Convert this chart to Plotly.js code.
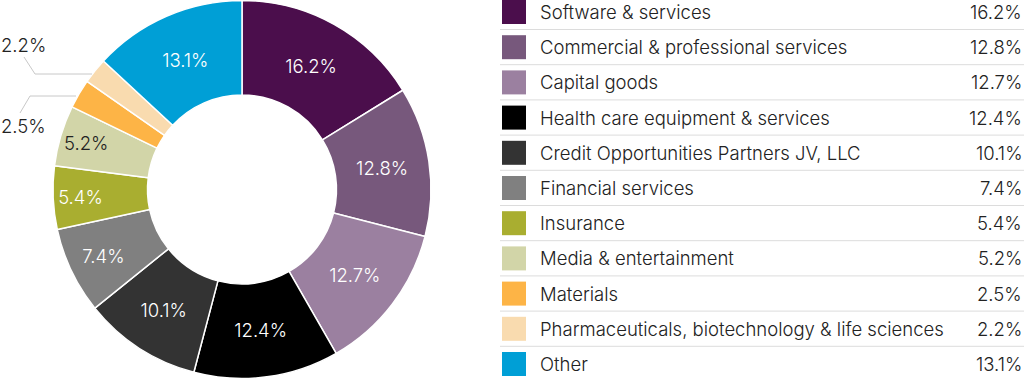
<!DOCTYPE html>
<html>
<head>
<meta charset="utf-8">
<script src="https://cdn.plot.ly/plotly-3.0.1.min.js"></script>
<style>html,body{margin:0;padding:0;background:#fff;}#chart{width:1024px;height:379px;}</style>
</head>
<body>
<div id="chart"></div>
<script>
const categories = [
  "Software & services",
  "Commercial & professional services",
  "Capital goods",
  "Health care equipment & services",
  "Credit Opportunities Partners JV, LLC",
  "Financial services",
  "Insurance",
  "Media & entertainment",
  "Materials",
  "Pharmaceuticals, biotechnology & life sciences",
  "Other"
];
const values = [16.2, 12.8, 12.7, 12.4, 10.1, 7.4, 5.4, 5.2, 2.5, 2.2, 13.1];
const colors = ["#4b0e4c", "#77587c", "#9b80a0", "#000000", "#333333", "#808080",
                "#a9ae30", "#d2d5a8", "#fdb446", "#f9dbaf", "#009fd6"];
const insideTextColors = ["#fff","#fff","#fff","#fff","#fff","#fff","#fff","#222","#fff","#fff","#fff"];
const outsideLabelIdx = [9, 8]; // small slices labelled outside

const W = 1024, H = 379;
const px = x => x / W;
const py = y => 1 - y / H;
const FONT = "Inter, sans-serif";

const fmt = v => v.toFixed(1) + "%";
const sliceText = values.map((v, i) => outsideLabelIdx.includes(i) ? "" : fmt(v));

const trace = {
  type: "pie",
  labels: categories,
  values: values,
  text: sliceText,
  textinfo: "text",
  textposition: "inside",
  insidetextorientation: "horizontal",
  insidetextfont: {family: FONT, size: 18.5, color: insideTextColors, weight: 300},
  hole: 0.5,
  sort: false,
  direction: "clockwise",
  rotation: 0,
  marker: {colors: colors, line: {color: "#ffffff", width: 1.5}},
  domain: {x: [px(53), px(431)], y: [0, 1]},
  showlegend: false,
  hoverinfo: "label+percent"
};

const shapes = [];
const annotations = [];
const rowY0 = 12, rowStep = 35.2;
categories.forEach((c, i) => {
  const yc = rowY0 + rowStep * i;
  shapes.push({type: "rect", xref: "paper", yref: "paper",
    x0: px(502), x1: px(526), y0: py(yc - 12), y1: py(yc + 12),
    fillcolor: colors[i], line: {width: 0}});
  if (i < categories.length - 1) {
    shapes.push({type: "line", xref: "paper", yref: "paper",
      x0: px(500), x1: px(1024), y0: py(yc + 17.5), y1: py(yc + 17.5),
      line: {color: "#dcdcdc", width: 1}});
  }
  annotations.push({xref: "paper", yref: "paper", x: px(538), y: py(yc),
    xanchor: "left", yanchor: "middle", showarrow: false, text: c,
    font: {family: FONT, size: 18.5, color: "#222", weight: 300}});
  annotations.push({xref: "paper", yref: "paper", x: px(1024), y: py(yc),
    xanchor: "right", yanchor: "middle", showarrow: false, text: fmt(values[i]),
    font: {family: FONT, size: 18.5, color: "#222", weight: 300}});
});

// outside labels with leader lines
const leaderColor = "#c8c8c8";
shapes.push({type: "path", xref: "paper", yref: "paper",
  path: `M ${px(92)} ${py(74)} L ${px(35)} ${py(74)} L ${px(24)} ${py(57)}`,
  line: {color: leaderColor, width: 1}});
shapes.push({type: "path", xref: "paper", yref: "paper",
  path: `M ${px(76)} ${py(96)} L ${px(30)} ${py(96)} L ${px(20)} ${py(113)}`,
  line: {color: leaderColor, width: 1}});
annotations.push({xref: "paper", yref: "paper", x: px(-1), y: py(45),
  xanchor: "left", yanchor: "middle", showarrow: false, text: fmt(values[9]),
  font: {family: FONT, size: 18.5, color: "#222", weight: 300}});
annotations.push({xref: "paper", yref: "paper", x: px(-1), y: py(126),
  xanchor: "left", yanchor: "middle", showarrow: false, text: fmt(values[8]),
  font: {family: FONT, size: 18.5, color: "#222", weight: 300}});

const layout = {
  width: W, height: H,
  margin: {l: 0, r: 0, t: 0, b: 0, pad: 0},
  paper_bgcolor: "#ffffff",
  plot_bgcolor: "#ffffff",
  uniformtext: {minsize: 18.5, mode: "show"},
  shapes: shapes,
  annotations: annotations,
  font: {family: FONT}
};

Plotly.newPlot("chart", [trace], layout, {displayModeBar: false, staticPlot: true});
</script>
</body>
</html>
